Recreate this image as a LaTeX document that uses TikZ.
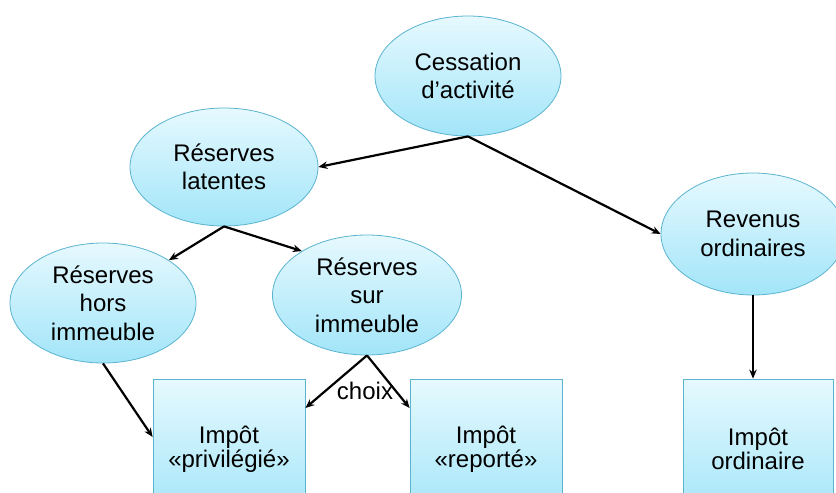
\documentclass[tikz,border=0pt]{standalone}
\usepackage{fontspec}
\setmainfont{Liberation Sans}
\usetikzlibrary{shapes.geometric,arrows.meta,calc}
\definecolor{topc}{HTML}{E6F9FE}
\definecolor{botc}{HTML}{A2E5F9}
\definecolor{edgec}{HTML}{5AB4CF}
\tikzset{
  bubble/.style={ellipse, draw=edgec, line width=0.8pt, top color=topc, bottom color=botc,
    inner sep=0pt, align=center, font=\fontsize{24}{28.5}\selectfont},
  taxbox/.style={rectangle, draw=edgec, line width=0.8pt, top color=topc, bottom color=botc,
    inner sep=0pt, minimum width=152pt, minimum height=140pt, align=center,
    font=\fontsize{24}{24}\selectfont},
  conn/.style={-{Stealth[length=9pt,width=7.5pt]}, line width=2.2pt, black},
}
\begin{document}
\begin{tikzpicture}[x=1pt,y=-1pt]
\clip (0,0) rectangle (836,493);
\fill[white] (0,0) rectangle (836,493);
\node[bubble, minimum width=186pt, minimum height=120pt] (cess) at (468,76) {Cessation\\d’activité};
\node[bubble, minimum width=188pt, minimum height=118pt] (lat) at (224,167) {Réserves\\latentes};
\node[bubble, minimum width=186pt, minimum height=120pt] (hors) at (103,303) {Réserves\\hors\\immeuble};
\node[bubble, minimum width=189pt, minimum height=120pt] (sur) at (367,295) {Réserves\\sur\\immeuble};
\node[bubble, minimum width=184pt, minimum height=122pt] (rev) at (753,234) {Revenus\\ordinaires};
\node[taxbox] (priv) at (229,449) {Impôt\\«privilégié»};
\node[taxbox] (rep) at (486,449) {Impôt\\«reporté»};
\node[taxbox, minimum width=150pt] (ord) at (758,449) {Impôt\\ordinaire};
\draw[conn] (cess.south) -- (lat.east);
\draw[conn] (cess.south) -- (rev.west);
\draw[conn] (lat.south) -- (hors.33);
\draw[conn] (lat.south) -- (sur.146);
\draw[conn] (hors.south) -- ([yshift=12pt]priv.west);
\draw[conn] (sur.south) -- ([yshift=41pt]priv.east);
\draw[conn] (sur.south) -- ([yshift=41pt]rep.west);
\draw[conn] (rev.south) -- (rev.south |- ord.north);
\node[font=\fontsize{24}{28}\selectfont, inner sep=0pt] (choix) at (365,391) {choix};
\end{tikzpicture}
\end{document}
